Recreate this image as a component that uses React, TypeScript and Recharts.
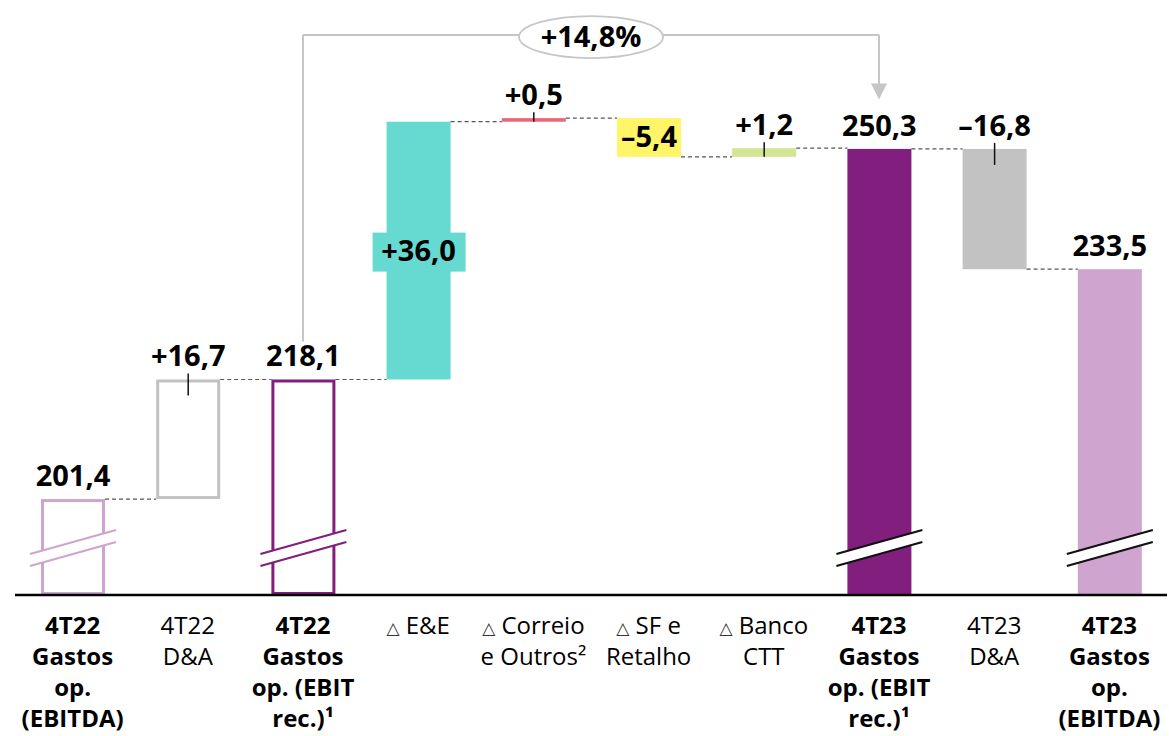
import { BarChart, Bar, XAxis, YAxis, ReferenceLine, ReferenceDot } from 'recharts'

const categories = [
  '4T22 Gastos op. (EBITDA)',
  '4T22 D&A',
  '4T22 Gastos op. (EBIT rec.)',
  'E&E',
  'Correio e Outros',
  'SF e Retalho',
  'Banco CTT',
  '4T23 Gastos op. (EBIT rec.)',
  '4T23 D&A',
  '4T23 Gastos op. (EBITDA)',
]

// lines of each category label; a leading '△' is drawn small
const tickLines = [
  ['4T22', 'Gastos', 'op.', '(EBITDA)'],
  ['4T22', 'D&A'],
  ['4T22', 'Gastos', 'op. (EBIT', 'rec.)¹'],
  ['△ E&E'],
  ['△ Correio', 'e Outros²'],
  ['△ SF e', 'Retalho'],
  ['△ Banco', 'CTT'],
  ['4T23', 'Gastos', 'op. (EBIT', 'rec.)¹'],
  ['4T23', 'D&A'],
  ['4T23', 'Gastos', 'op.', '(EBITDA)'],
]
const boldTick = [true, false, true, false, false, false, false, true, false, true]

const values = [201.4, 16.7, 218.1, 36.0, 0.5, -5.4, 1.2, 250.3, -16.8, 233.5]
const isTotal = [true, false, true, false, false, false, false, true, false, true]
const colors = ['#CFA4CE', '#C2C2C2', '#821E7D', '#66D9D1', '#E8677A', '#FFF566', '#D3E593', '#821E7D', '#C2C2C2', '#CFA4CE']
const outlined = [true, true, true, false, false, false, false, false, false, false]
const labelInside = [false, false, false, true, false, true, false, false, false, false]

// broken axis: bars start at this value
const AXIS_FLOOR = 188
const AXIS_TOP = 271.1

// growth bracket between the two EBIT totals
const GROWTH_LABEL = '+14,8%'
const BRACKET_FROM = 223.4
const BRACKET_TOP = 266.2
const ARROW_TIP = 257.2

const W = 1169
const H = 736
const MARGIN = { top: 0, right: 2, left: 15, bottom: 0 }
const BAND = (W - MARGIN.left - MARGIN.right) / categories.length
const FONT = '"Open Sans", sans-serif'
const VALUE_SIZE = 29

let running = 0
const data = categories.map((name, i) => {
  const start = isTotal[i] ? AXIS_FLOOR : running
  const end = isTotal[i] ? values[i] : running + values[i]
  running = end
  return { name, start, end, range: [Math.min(start, end), Math.max(start, end)], value: values[i], index: i }
})

const fmt = (v: number, total: boolean) => {
  const s = Math.abs(v).toFixed(1).replace('.', ',')
  if (total) return s
  return (v >= 0 ? '+' : '–') + s
}

const WaterfallShape = (props: any) => {
  const { x, y, width, height, payload } = props
  const i = payload.index
  const top = Math.min(y, y + height)
  const h = Math.abs(height)
  const bottom = top + h
  const color = colors[i]
  const total = isTotal[i]
  const cx = x + width / 2

  const parts: any[] = []

  if (outlined[i]) {
    parts.push(
      <rect key="r" x={x + 1.5} y={top + 1.5} width={width - 3} height={h - 3} fill="#fff" stroke={color} strokeWidth={3} />
    )
  } else {
    parts.push(<rect key="r" x={x} y={top} width={width} height={h} fill={color} />)
  }

  // axis break marks
  if (total) {
    const by = bottom - 47
    const x1 = x - 11
    const x2 = x + width + 11
    const markColor = outlined[i] ? color : '#111'
    parts.push(
      <g key="brk">
        <polygon points={`${x1},${by + 6} ${x2},${by - 18} ${x2},${by - 6} ${x1},${by + 18}`} fill="#fff" />
        <line x1={x1} y1={by + 6} x2={x2} y2={by - 18} stroke={markColor} strokeWidth={2.2} />
        <line x1={x1} y1={by + 18} x2={x2} y2={by - 6} stroke={markColor} strokeWidth={2.2} />
      </g>
    )
  }

  // dashed connector to the next bar
  if (i < categories.length - 1) {
    const levelY = payload.end >= payload.start ? top : bottom
    parts.push(
      <line key="c" x1={x + width} y1={levelY} x2={x + BAND} y2={levelY} stroke="#555" strokeWidth={1.2} strokeDasharray="4 3" />
    )
  }

  // small tick on delta bars
  if (!total && !labelInside[i]) {
    parts.push(<line key="t" x1={cx} y1={top - 6} x2={cx} y2={top + Math.min(16, h)} stroke="#111" strokeWidth={1.5} />)
  }

  const text = fmt(values[i], total)
  if (labelInside[i]) {
    const my = top + h / 2
    if (i === 3) {
      parts.push(<rect key="lb" x={cx - 46} y={my - 18} width={93} height={39} fill={color} />)
    }
    parts.push(
      <text key="l" x={cx} y={my + 10} textAnchor="middle" fontFamily={FONT} fontWeight={700} fontSize={VALUE_SIZE} fill="#000">
        {text}
      </text>
    )
  } else {
    parts.push(
      <text key="l" x={cx} y={top - 13} textAnchor="middle" fontFamily={FONT} fontWeight={700} fontSize={VALUE_SIZE} fill="#000">
        {text}
      </text>
    )
  }

  return <g>{parts}</g>
}

const CategoryTick = (props: any) => {
  const { x, y, index } = props
  const lines = tickLines[index]
  const bold = boldTick[index]
  return (
    <g>
      {lines.map((ln, k) => {
        const tri = ln.startsWith('△')
        return (
          <text
            key={k}
            x={x}
            y={y + 39 + k * 31}
            textAnchor="middle"
            fontFamily={FONT}
            fontWeight={bold ? 700 : 400}
            fontSize={24}
            fill="#000"
          >
            {tri ? (
              <>
                <tspan fontSize={17} fontFamily='"DejaVu Sans", sans-serif' fill="#333">△</tspan>
                <tspan>{ln.slice(1)}</tspan>
              </>
            ) : (
              ln
            )}
          </text>
        )
      })}
    </g>
  )
}

const GrowthBubble = (props: any) => {
  const vb = props.viewBox || {}
  const cx = vb.x + vb.width / 2
  const cy = vb.y + 2
  return (
    <g>
      <ellipse cx={cx} cy={cy} rx={72} ry={21} fill="#fff" stroke="#C6C6C6" strokeWidth={1.8} />
      <text x={cx} y={cy + 10} textAnchor="middle" fontFamily={FONT} fontWeight={700} fontSize={VALUE_SIZE} fill="#000">
        {GROWTH_LABEL}
      </text>
    </g>
  )
}

const ArrowHead = (props: any) => {
  const { cx, cy } = props
  return <polygon points={`${cx - 8},${cy - 16} ${cx + 8},${cy - 16} ${cx},${cy}`} fill="#C6C6C6" />
}

export default function App() {
  return (
    <div style={{ position: 'absolute', left: 0, top: 0, width: W, height: H, background: '#fff' }}>
      <BarChart width={W} height={H} data={data} margin={MARGIN} barCategoryGap={0}>
        <XAxis
          dataKey="name"
          height={141}
          interval={0}
          tickLine={false}
          tickSize={0}
          tickMargin={0}
          axisLine={{ stroke: '#000', strokeWidth: 2.5 }}
          tick={<CategoryTick />}
        />
        <YAxis hide domain={[AXIS_FLOOR, AXIS_TOP]} allowDataOverflow />
        <Bar dataKey="range" barSize={64} isAnimationActive={false} shape={<WaterfallShape />} />
        <ReferenceLine
          segment={[{ x: categories[2], y: BRACKET_FROM }, { x: categories[2], y: BRACKET_TOP }]}
          stroke="#C6C6C6"
          strokeWidth={2}
        />
        <ReferenceLine
          segment={[{ x: categories[2], y: BRACKET_TOP }, { x: categories[7], y: BRACKET_TOP }]}
          stroke="#C6C6C6"
          strokeWidth={2}
          label={{ content: <GrowthBubble /> } as any}
        />
        <ReferenceLine
          segment={[{ x: categories[7], y: BRACKET_TOP }, { x: categories[7], y: ARROW_TIP + 1 }]}
          stroke="#C6C6C6"
          strokeWidth={2}
        />
        <ReferenceDot x={categories[7]} y={ARROW_TIP} r={1} shape={<ArrowHead />} />
      </BarChart>
    </div>
  )
}
